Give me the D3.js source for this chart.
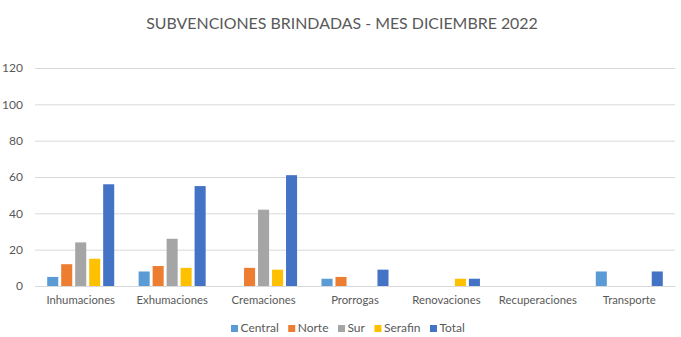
<!DOCTYPE html>
<html><head><meta charset="utf-8">
<script src="https://cdn.jsdelivr.net/npm/d3@7"></script>
<style>body{margin:0;background:#fff}svg{display:block}</style>
</head><body>
<svg id="c" width="681" height="337"></svg>
<script>
const categories = ["Inhumaciones","Exhumaciones","Cremaciones","Prorrogas","Renovaciones","Recuperaciones","Transporte"];
const seriesNames = ["Central","Norte","Sur","Serafin","Total"];
const colors = ["#5B9BD5","#ED7D31","#A5A5A5","#FFC000","#4472C4"];
const central = [5, 8, 0, 4, 0, 0, 8];
const norte   = [12, 11, 10, 5, 0, 0, 0];
const sur     = [24, 26, 42, 0, 0, 0, 0];
const serafin = [15, 10, 9, 0, 4, 0, 0];
const total   = [56, 55, 61, 9, 4, 0, 8];
const yTicks = [0,20,40,60,80,100,120];
const title = "SUBVENCIONES BRINDADAS - MES DICIEMBRE 2022";

const values = [central, norte, sur, serafin, total];
const font = "Lato, 'Open Sans', sans-serif";
const svg = d3.select("#c");
const L = 35, R = 675, T = 68, B = 286;

const y = d3.scaleLinear().domain([0,120]).range([B,T]);
const x0 = d3.scaleBand().domain(categories).range([L,R]).paddingInner(0.267).paddingOuter(0.1335);
const x1 = d3.scaleBand().domain(seriesNames).range([0,x0.bandwidth()]).paddingInner(0.21);

const tt = svg.append("text").attr("x",342).attr("y",29).attr("text-anchor","middle")
  .attr("font-family",font).attr("font-size",18).attr("fill","#595959").text(title);
const tw = tt.node().getComputedTextLength();
tt.attr("font-size", 18 * 392 / tw);

// gridlines
const yAxis = d3.axisLeft(y).tickValues(yTicks).tickSize(-(R-L)).tickPadding(12);
const ga = svg.append("g").attr("transform",`translate(${L},0)`).call(yAxis);
ga.select(".domain").remove();
ga.selectAll(".tick line").attr("stroke","#D9D9D9").attr("stroke-width",1);
ga.selectAll(".tick text").attr("font-family",font).attr("font-size",12).attr("fill","#595959");

// bars
const groups = svg.append("g").selectAll("g").data(categories).join("g")
  .attr("transform",d=>`translate(${x0(d)},0)`);
groups.selectAll("rect").data((c,i)=>seriesNames.map((s,j)=>({s,j,v:values[j][i]})))
  .join("rect")
  .attr("x",d=>x1(d.s)).attr("width",x1.bandwidth())
  .attr("y",d=>y(d.v)).attr("height",d=>B-y(d.v))
  .attr("fill",d=>colors[d.j]);

// x axis
const xAxis = d3.axisBottom(x0).tickSize(0).tickPadding(10);
const gx = svg.append("g").attr("transform",`translate(0,${B})`).call(xAxis);
gx.select(".domain").attr("stroke","#D9D9D9");
gx.selectAll(".tick text").attr("font-family",font).attr("font-size",11.3).attr("fill","#595959");

// legend
const legend = svg.append("g").attr("transform","translate(0,332)");
const items = seriesNames.map((s,i)=>({s,i}));
let cx = 231;
items.forEach(d=>{
  const g = legend.append("g").attr("transform",`translate(${cx},0)`);
  g.append("rect").attr("x",0).attr("y",-7).attr("width",7).attr("height",7).attr("fill",colors[d.i]);
  const t = g.append("text").attr("x",9.5).attr("y",0).attr("font-family",font).attr("font-size",12)
    .attr("fill","#595959").text(d.s);
  cx += 9.5 + t.node().getComputedTextLength() + 9.5;
});
</script>
</body></html>
